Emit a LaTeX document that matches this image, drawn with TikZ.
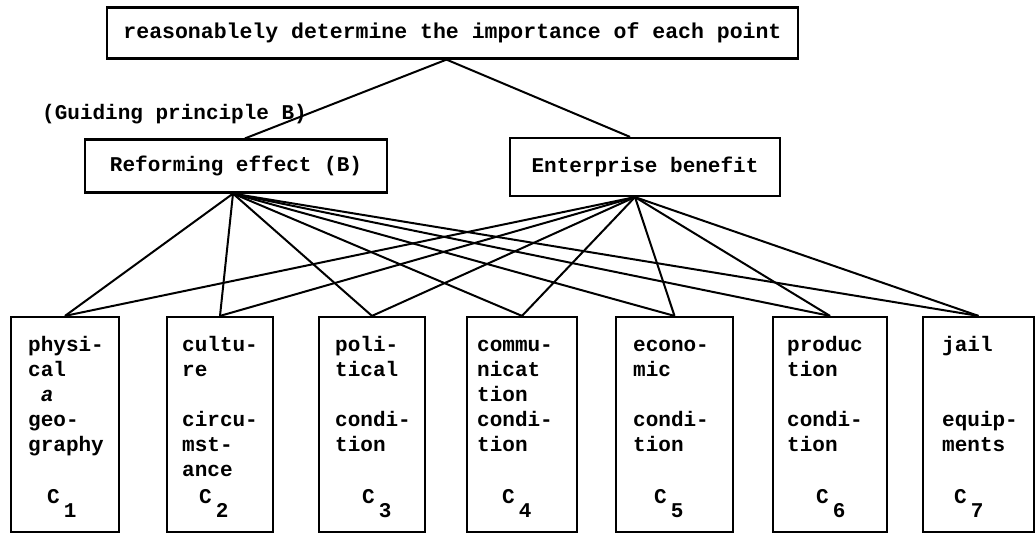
\documentclass[tikz,border=0pt]{standalone}
\usepackage{fontspec}
\newfontfamily\tw{Liberation Mono}
\newcommand{\bline}[4]{\node[txt] (#1) at (#2,{351+25*(#3-1)}) {#4};}
\newcommand{\cl}[3]{\node[txt] (#1) at (#2,503) {C\kern4pt\raisebox{-14pt}{#3}};}
\begin{document}
\begin{tikzpicture}[x=1pt,y=-1pt,
  tfont/.style={font=\tw\bfseries\fontsize{21}{25}\selectfont},
  box/.style={draw, line width=2.2pt, inner sep=0pt, tfont},
  bbox/.style={box, minimum height=215pt},
  txt/.style={inner sep=0pt, anchor=base west, tfont},
  link/.style={line width=2pt}]
\useasboundingbox (0,0) rectangle (1036,536);

\node[box, minimum width=691pt, minimum height=51pt, font=\tw\bfseries\fontsize{21.5}{25}\selectfont] (goal) at (452.5,33) {reasonablely determine the importance of each point};
\node[box, minimum width=302pt, minimum height=53pt] (ref) at (236,166) {Reforming effect (B)};
\node[box, minimum width=270pt, minimum height=58pt] (ent) at (645,167) {Enterprise benefit};
\node[txt] (guide) at (42,119) {(Guiding principle B)};

\node[bbox, minimum width=108pt] (b1) at (65,424.5) {};
\node[bbox, minimum width=106pt] (b2) at (220,424.5) {};
\node[bbox, minimum width=106pt] (b3) at (372,424.5) {};
\node[bbox, minimum width=110pt] (b4) at (522,424.5) {};
\node[bbox, minimum width=117pt] (b5) at (674.5,424.5) {};
\node[bbox, minimum width=114pt] (b6) at (830,424.5) {};
\node[bbox, minimum width=111pt] (b7) at (978.5,424.5) {};

\bline{t11}{28}{1}{physi-}
\bline{t12}{28}{2}{cal}
\bline{t13}{28}{3}{\hspace{12.6pt}\textit{a}}
\bline{t14}{28}{4}{geo-}
\bline{t15}{28}{5}{graphy}
\cl{c1}{47}{1}

\bline{t21}{182}{1}{cultu-}
\bline{t22}{182}{2}{re}
\bline{t24}{182}{4}{circu-}
\bline{t25}{182}{5}{mst-}
\bline{t26}{182}{6}{ance}
\cl{c2}{199}{2}

\bline{t31}{335}{1}{poli-}
\bline{t32}{335}{2}{tical}
\bline{t34}{335}{4}{condi-}
\bline{t35}{335}{5}{tion}
\cl{c3}{362}{3}

\bline{t41}{477}{1}{commu-}
\bline{t42}{477}{2}{nicat}
\bline{t43}{477}{3}{tion}
\bline{t44}{477}{4}{condi-}
\bline{t45}{477}{5}{tion}
\cl{c4}{502}{4}

\bline{t51}{633}{1}{econo-}
\bline{t52}{633}{2}{mic}
\bline{t54}{633}{4}{condi-}
\bline{t55}{633}{5}{tion}
\cl{c5}{654}{5}

\bline{t61}{787}{1}{produc}
\bline{t62}{787}{2}{tion}
\bline{t64}{787}{4}{condi-}
\bline{t65}{787}{5}{tion}
\cl{c6}{816}{6}

\bline{t71}{942}{1}{jail}
\bline{t74}{942}{4}{equip-}
\bline{t75}{942}{5}{ments}
\cl{c7}{954}{7}

\draw[link] ([xshift=-6pt]goal.south) -- ([xshift=9pt]ref.north);
\draw[link] ([xshift=-6pt]goal.south) -- ([xshift=-15pt]ent.north);
\foreach \i in {1,...,7}{
  \draw[link] ([xshift=-3pt]ref.south) -- (b\i.north);
  \draw[link] ([xshift=-10pt]ent.south) -- (b\i.north);
}
\end{tikzpicture}
\end{document}
